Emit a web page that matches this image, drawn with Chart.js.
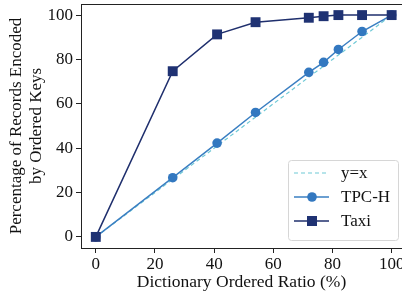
<!DOCTYPE html>
<html>
<head>
<meta charset="utf-8">
<script src="https://cdn.jsdelivr.net/npm/chart.js@4.4.0/dist/chart.umd.min.js"></script>
<style>
  html, body { margin: 0; padding: 0; background: #fff; }
  #chart { display: block; }
</style>
</head>
<body>
<canvas id="chart" width="402" height="294" style="width:402px;height:294px"></canvas>
<script>
// Data
const ratios = [0, 26, 41, 54, 72, 77, 82, 90, 100];
const tpchValues = [0, 26.7, 42.3, 56.1, 74.2, 78.7, 84.5, 92.6, 100];
const taxiValues = [0, 74.7, 91.3, 96.8, 98.8, 99.5, 100, 100, 100];
const diagonal = [0, 100];
const xTicks = [0, 20, 40, 60, 80, 100];
const yTicks = [0, 20, 40, 60, 80, 100];

const FONT = "'Liberation Serif', 'DejaVu Serif', serif";

function toPoints(xs, ys) {
    return xs.map((x, i) => ({ x: x, y: ys[i] }));
}

// Legend drawn inside the plot, lower right, like the original
const legendPlugin = {
    id: 'innerLegend',
    afterDraw(chart) {
        const ctx = chart.ctx;
        const box = { x: 288.5, y: 160.5, w: 110, h: 80 };
        ctx.save();
        ctx.beginPath();
        ctx.roundRect(box.x, box.y, box.w, box.h, 3);
        ctx.fillStyle = 'rgba(255,255,255,0.85)';
        ctx.fill();
        ctx.strokeStyle = '#d6d6d6';
        ctx.lineWidth = 1;
        ctx.stroke();

        const rows = [173, 197, 221];
        chart.data.datasets.forEach((ds, i) => {
            const y = rows[i];
            ctx.beginPath();
            ctx.setLineDash(ds.borderDash || []);
            ctx.strokeStyle = ds.borderColor;
            ctx.lineWidth = ds.borderWidth;
            ctx.moveTo(294, y);
            ctx.lineTo(329, y);
            ctx.stroke();
            ctx.setLineDash([]);
            if (ds.pointRadius > 0) {
                ctx.fillStyle = ds.pointBackgroundColor;
                ctx.beginPath();
                if (ds.pointStyle === 'rect') {
                    ctx.rect(312 - 5, y - 5, 10, 10);
                } else {
                    ctx.arc(312, y, ds.pointRadius, 0, Math.PI * 2);
                }
                ctx.fill();
            }
            ctx.fillStyle = '#111';
            ctx.font = '17px ' + FONT;
            ctx.textAlign = 'left';
            ctx.textBaseline = 'middle';
            ctx.fillText(ds.label, 341, y + 1);
        });
        ctx.restore();
    }
};

// Top spine (matplotlib style frame); right spine falls outside the canvas
const topSpine = {
    id: 'topSpine',
    afterDatasetsDraw(chart) {
        const { ctx, chartArea } = chart;
        ctx.save();
        ctx.strokeStyle = '#222';
        ctx.lineWidth = 1;
        ctx.beginPath();
        ctx.moveTo(chartArea.left, chartArea.top + 0.5);
        ctx.lineTo(chartArea.right, chartArea.top + 0.5);
        ctx.stroke();
        ctx.restore();
    }
};

const ctx = document.getElementById('chart').getContext('2d');
new Chart(ctx, {
    type: 'line',
    data: {
        datasets: [
            {
                label: 'y=x',
                data: toPoints(diagonal, diagonal),
                borderColor: '#6fc9d6',
                borderWidth: 1.2,
                borderDash: [4, 3],
                pointRadius: 0,
                order: 2
            },
            {
                label: 'TPC-H',
                data: toPoints(ratios, tpchValues),
                borderColor: '#3a7fc2',
                borderWidth: 1.5,
                pointStyle: 'circle',
                pointRadius: 4.8,
                pointBackgroundColor: '#3378c0',
                pointBorderWidth: 0,
                order: 1
            },
            {
                label: 'Taxi',
                data: toPoints(ratios, taxiValues),
                borderColor: '#1f2f6d',
                borderWidth: 1.5,
                pointStyle: 'rect',
                pointRadius: 7,
                pointBackgroundColor: '#1f3273',
                pointBorderWidth: 0,
                order: 0
            }
        ]
    },
    options: {
        responsive: false,
        animation: false,
        devicePixelRatio: 1,
        layout: { autoPadding: false, padding: { top: 4, right: 0, left: 0, bottom: 0 } },
        plugins: {
            legend: { display: false },
            tooltip: { enabled: false }
        },
        scales: {
            x: {
                type: 'linear',
                min: -5,
                max: 103.5,
                afterBuildTicks(scale) {
                    scale.ticks = xTicks.map(v => ({ value: v }));
                },
                afterFit(scale) {
                    scale.height = 46;
                    scale.paddingLeft = 0;
                    scale.paddingRight = 0;
                },
                ticks: {
                    color: '#111',
                    font: { family: FONT, size: 17 },
                    padding: 1,
                    maxRotation: 0,
                    callback: v => String(v)
                },
                grid: { drawOnChartArea: false, drawTicks: true, tickLength: 5, color: '#222' },
                border: { display: true, color: '#222', width: 1 },
                title: {
                    display: true,
                    text: 'Dictionary Ordered Ratio (%)',
                    color: '#111',
                    font: { family: FONT, size: 17.5 },
                    padding: { top: 0, bottom: 1 }
                }
            },
            y: {
                type: 'linear',
                min: -5,
                max: 105,
                afterBuildTicks(scale) {
                    scale.ticks = yTicks.map(v => ({ value: v }));
                },
                afterFit(scale) {
                    scale.width = 81;
                    scale.paddingTop = 0;
                    scale.paddingBottom = 0;
                },
                ticks: {
                    color: '#111',
                    font: { family: FONT, size: 17 },
                    padding: 3,
                    callback: v => String(v)
                },
                grid: { drawOnChartArea: false, drawTicks: true, tickLength: 5, color: '#222' },
                border: { display: true, color: '#222', width: 1 },
                title: {
                    display: true,
                    text: ['Percentage of Records Encoded', 'by Ordered Keys'],
                    color: '#111',
                    font: { family: FONT, size: 17, lineHeight: 1.15 },
                    padding: { top: 7, bottom: 0 }
                }
            }
        }
    },
    plugins: [legendPlugin, topSpine]
});
</script>
</body>
</html>
